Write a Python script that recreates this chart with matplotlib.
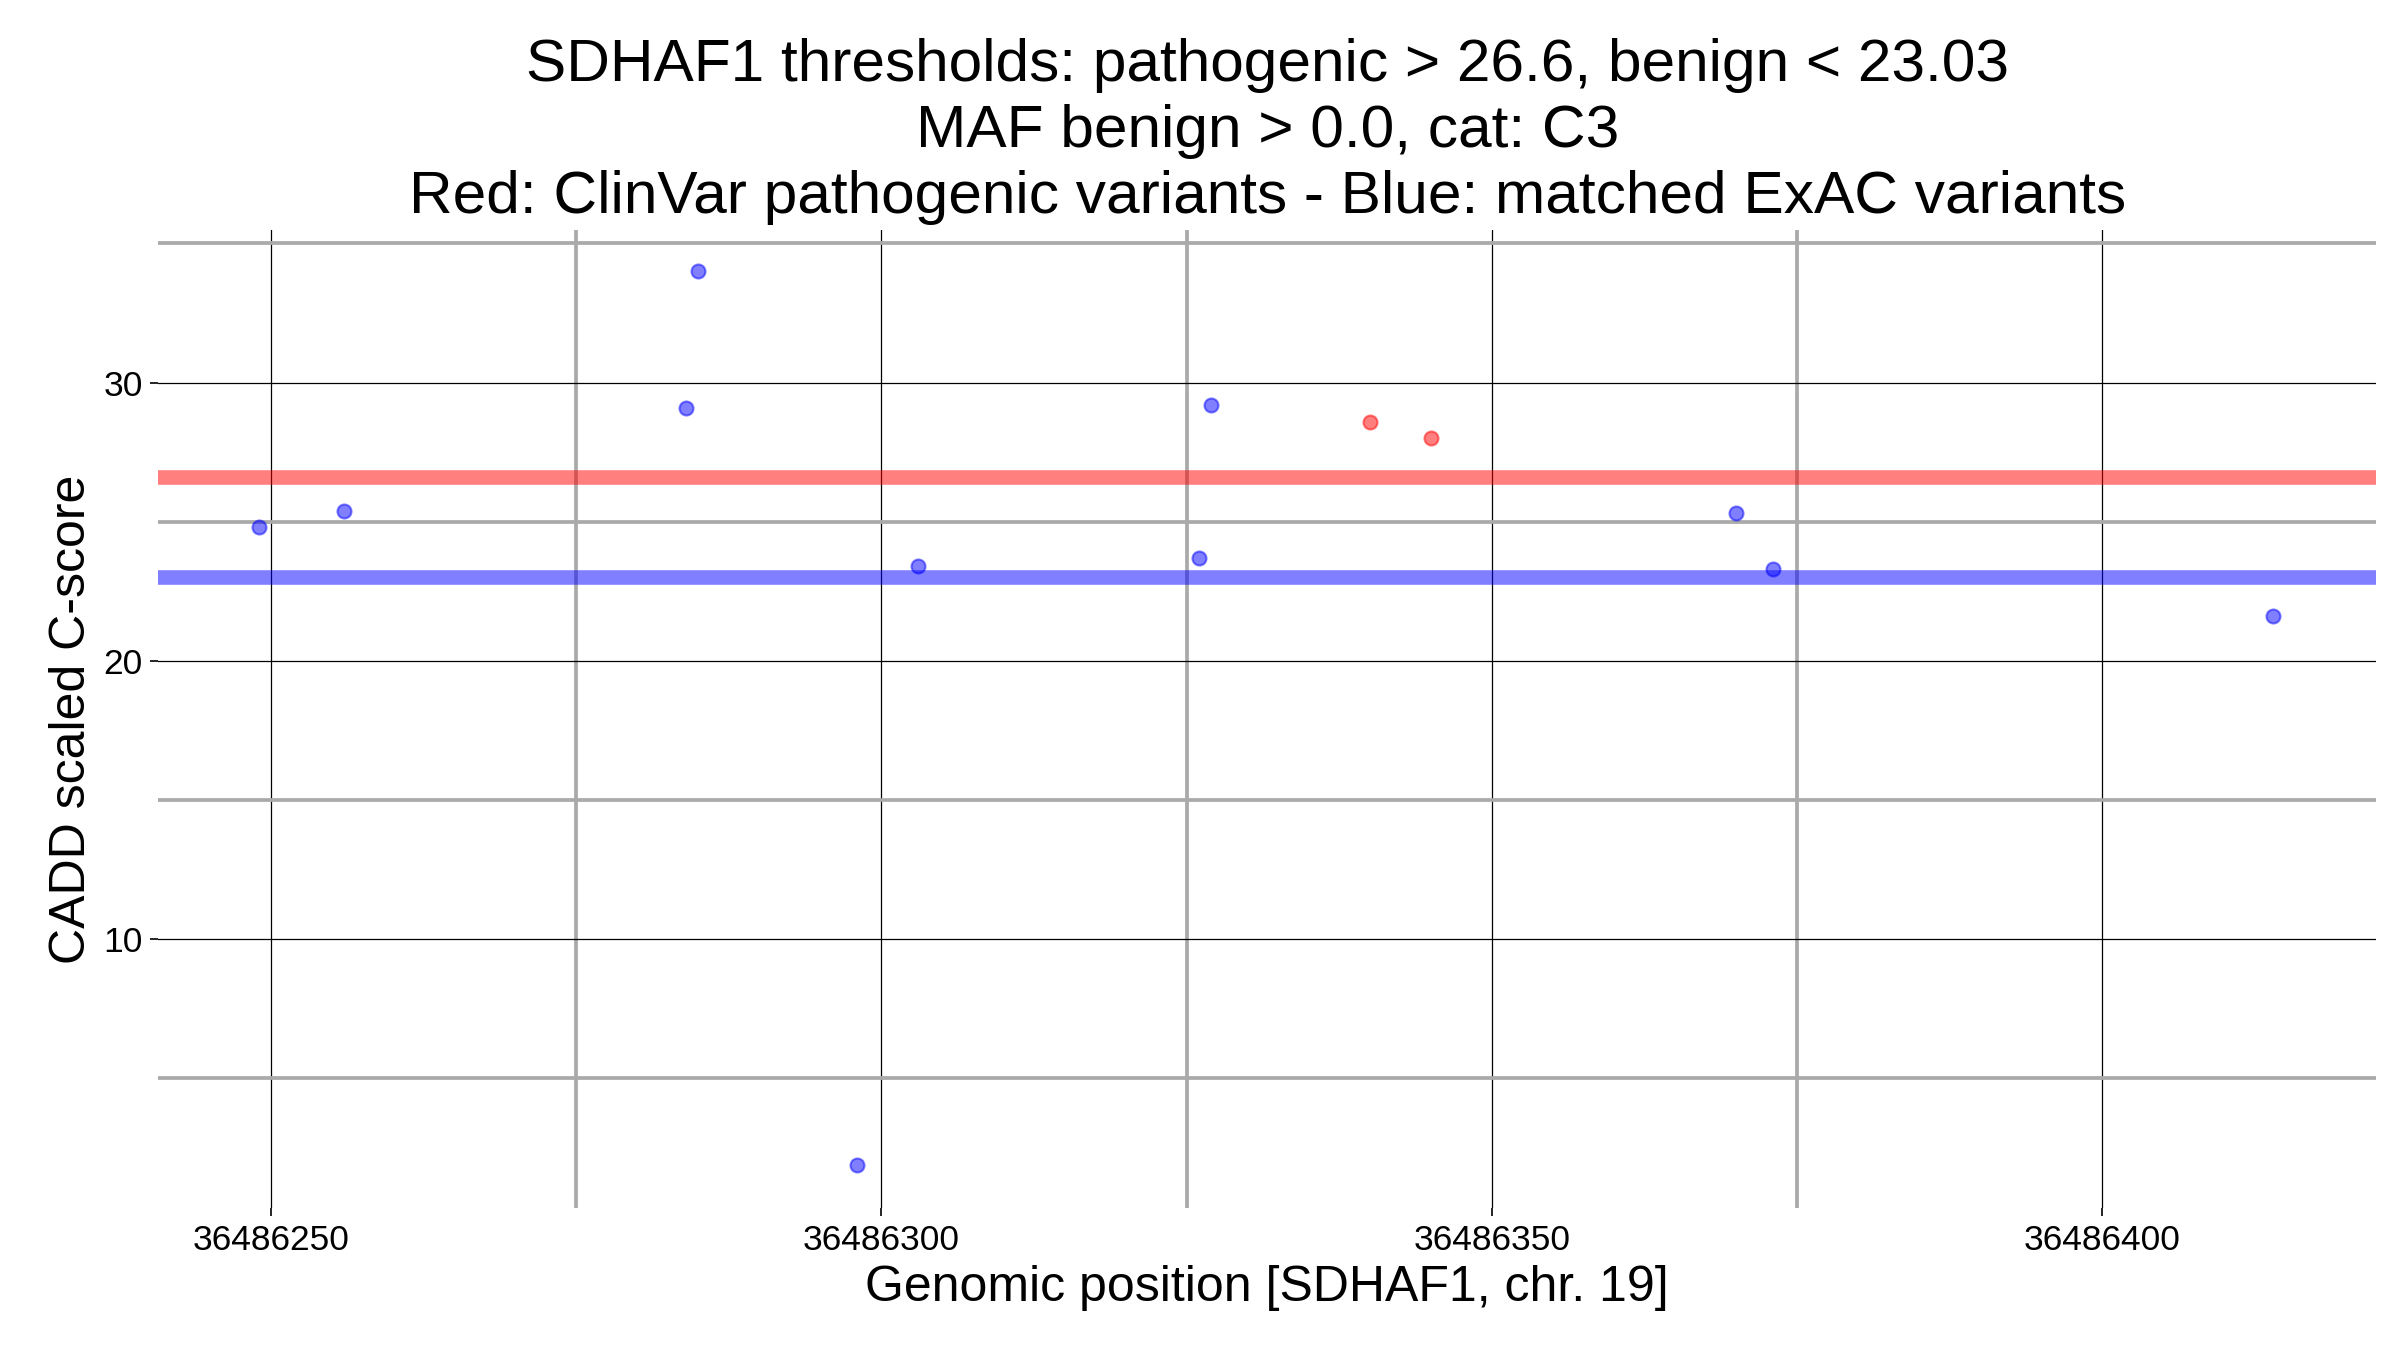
import numpy as np
import matplotlib.pyplot as plt
from matplotlib.ticker import MultipleLocator

plt.rcParams['font.family'] = ['Liberation Sans', 'DejaVu Sans']

# matched ExAC variants (blue)
exac_pos = [36486249, 36486256, 36486284, 36486285, 36486298, 36486303,
            36486326, 36486327, 36486370, 36486373, 36486414]
exac_score = [24.8, 25.4, 29.1, 34.0, 1.9, 23.4, 23.7, 29.2, 25.3, 23.3, 21.6]
# ClinVar pathogenic variants (red)
clin_pos = [36486340, 36486345]
clin_score = [28.6, 28.0]

patho_thr = 26.6
benign_thr = 23.03

fig, ax = plt.subplots(figsize=(16, 9), dpi=150)
fig.subplots_adjust(left=0.066, right=0.99, top=0.83, bottom=0.105)

ax.xaxis.set_major_locator(MultipleLocator(50))
ax.xaxis.set_minor_locator(MultipleLocator(25))
ax.yaxis.set_major_locator(MultipleLocator(10))
ax.yaxis.set_minor_locator(MultipleLocator(5))
ax.grid(which='minor', color='#aaaaaa', linewidth=1.8)
ax.grid(which='major', color='black', linewidth=0.6)
ax.set_axisbelow(True)
for s in ax.spines.values():
    s.set_visible(False)
ax.tick_params(which='minor', length=0)
ax.tick_params(which='major', length=4, labelsize=17)
ax.ticklabel_format(useOffset=False, style='plain', axis='x')

ax.axhline(patho_thr, color='red', alpha=0.5, linewidth=7)
ax.axhline(benign_thr, color='blue', alpha=0.5, linewidth=7)
ax.scatter(exac_pos, exac_score, color='blue', alpha=0.5, s=45, zorder=3)
ax.scatter(clin_pos, clin_score, color='red', alpha=0.5, s=45, zorder=3)

ax.set_xlim(36486240.8, 36486422.4)
ax.set_ylim(0.33, 35.5)
ax.set_xlabel('Genomic position [SDHAF1, chr. 19]', fontsize=24)
ax.set_ylabel('CADD scaled C-score', fontsize=24)
ax.set_title('SDHAF1 thresholds: pathogenic > 26.6, benign < 23.03\n'
             'MAF benign > 0.0, cat: C3\n'
             'Red: ClinVar pathogenic variants - Blue: matched ExAC variants',
             fontsize=29, linespacing=1.25, pad=8)

plt.savefig('out.png')
